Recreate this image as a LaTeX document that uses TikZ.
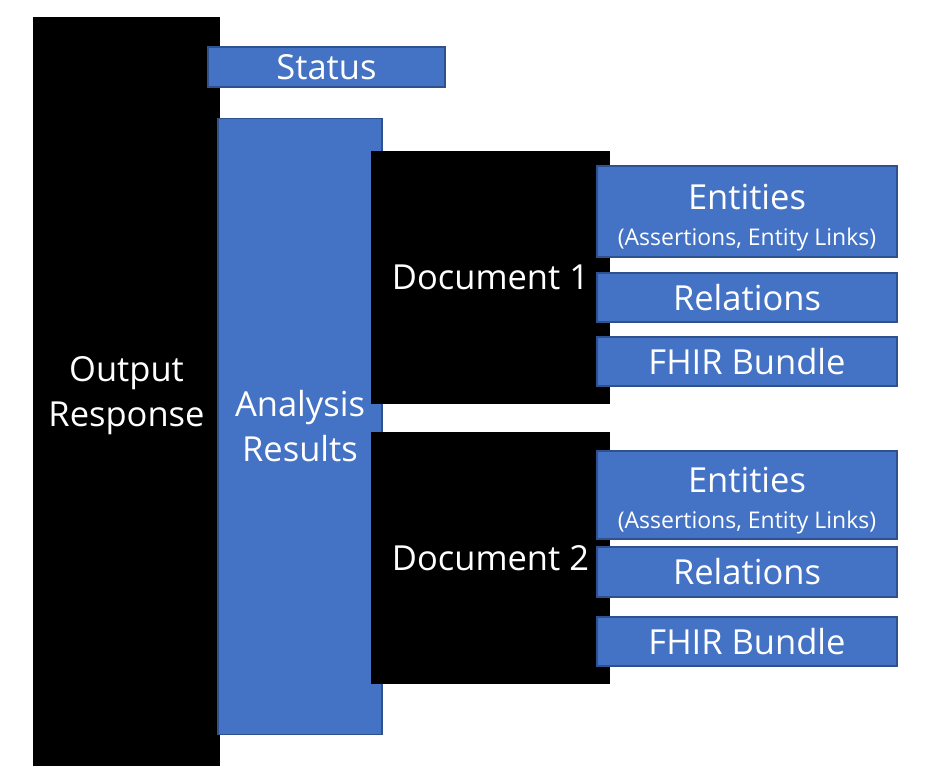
\documentclass[tikz,border=0pt]{standalone}
\usepackage{fontspec}
\setmainfont{Open Sans}
\definecolor{boxblue}{HTML}{4472C4}
\definecolor{boxedge}{HTML}{2F528F}

\begin{document}
\begin{tikzpicture}[x=1pt,y=-1pt]
\def \colx {747}
   \tikzset{BlackBox/.style = {rectangle, fill = black, text = white, inner sep = 0pt,
              align = center, font = \fontsize{34.5}{46}\selectfont},
            BlueBox/.style = {rectangle, fill = boxblue, draw = boxedge, line width = 1.3pt,
              text = white, inner sep = 0pt, align = center, font = \fontsize{34.5}{46}\selectfont},
            EntText/.style = {text = white, inner sep = 0pt, align = center,
              font = \fontsize{34.5}{46}\selectfont}}
   \useasboundingbox[fill = white] (0,0) rectangle (942,782);

   \node[BlackBox, minimum width = 187pt, minimum height = 749pt] (out) at (126.5,391.5) {};
   \node[EntText] (outtxt) at ([yshift=-4pt]out.center) {Output\\[-1pt]Response};
   \node[BlueBox, minimum width = 237pt, minimum height = 40pt] (status) at (326.5,67) {Status};
   \node[BlueBox, minimum width = 164pt, minimum height = 616pt] (res) at (300,426.5) {Analysis\\[-1pt]Results};

   \node[BlackBox, minimum width = 239pt, minimum height = 253pt] (doc1) at (490.5,277.5) {Document 1};
   \node[BlackBox, minimum width = 239pt, minimum height = 252pt] (doc2) at (490.5,558) {Document 2};

%  boxes of document 1
   \node[BlueBox, minimum width = 300pt, minimum height = 91pt] (ent1) at (\colx,211.5) {};
   \node[EntText] (ent1txt) at ([yshift=-6.5pt]ent1.center)
        {Entities\\[-10pt]{\fontsize{23}{27}\selectfont (Assertions, Entity Links)}};
   \node[BlueBox, minimum width = 300pt, minimum height = 49pt] (rel1) at (\colx,297.5) {Relations};
   \node[BlueBox, minimum width = 300pt, minimum height = 49pt] (fhir1) at (\colx,361.5) {FHIR Bundle};

%  boxes of document 2
   \node[BlueBox, minimum width = 300pt, minimum height = 88pt] (ent2) at (\colx,495) {};
   \node[EntText] (ent2txt) at ([yshift=-5.5pt]ent2.center)
        {Entities\\[-10pt]{\fontsize{23}{27}\selectfont (Assertions, Entity Links)}};
   \node[BlueBox, minimum width = 300pt, minimum height = 50pt] (rel2) at (\colx,572) {Relations};
   \node[BlueBox, minimum width = 300pt, minimum height = 49pt] (fhir2) at (\colx,641.5) {FHIR Bundle};
\end{tikzpicture}
\end{document}
